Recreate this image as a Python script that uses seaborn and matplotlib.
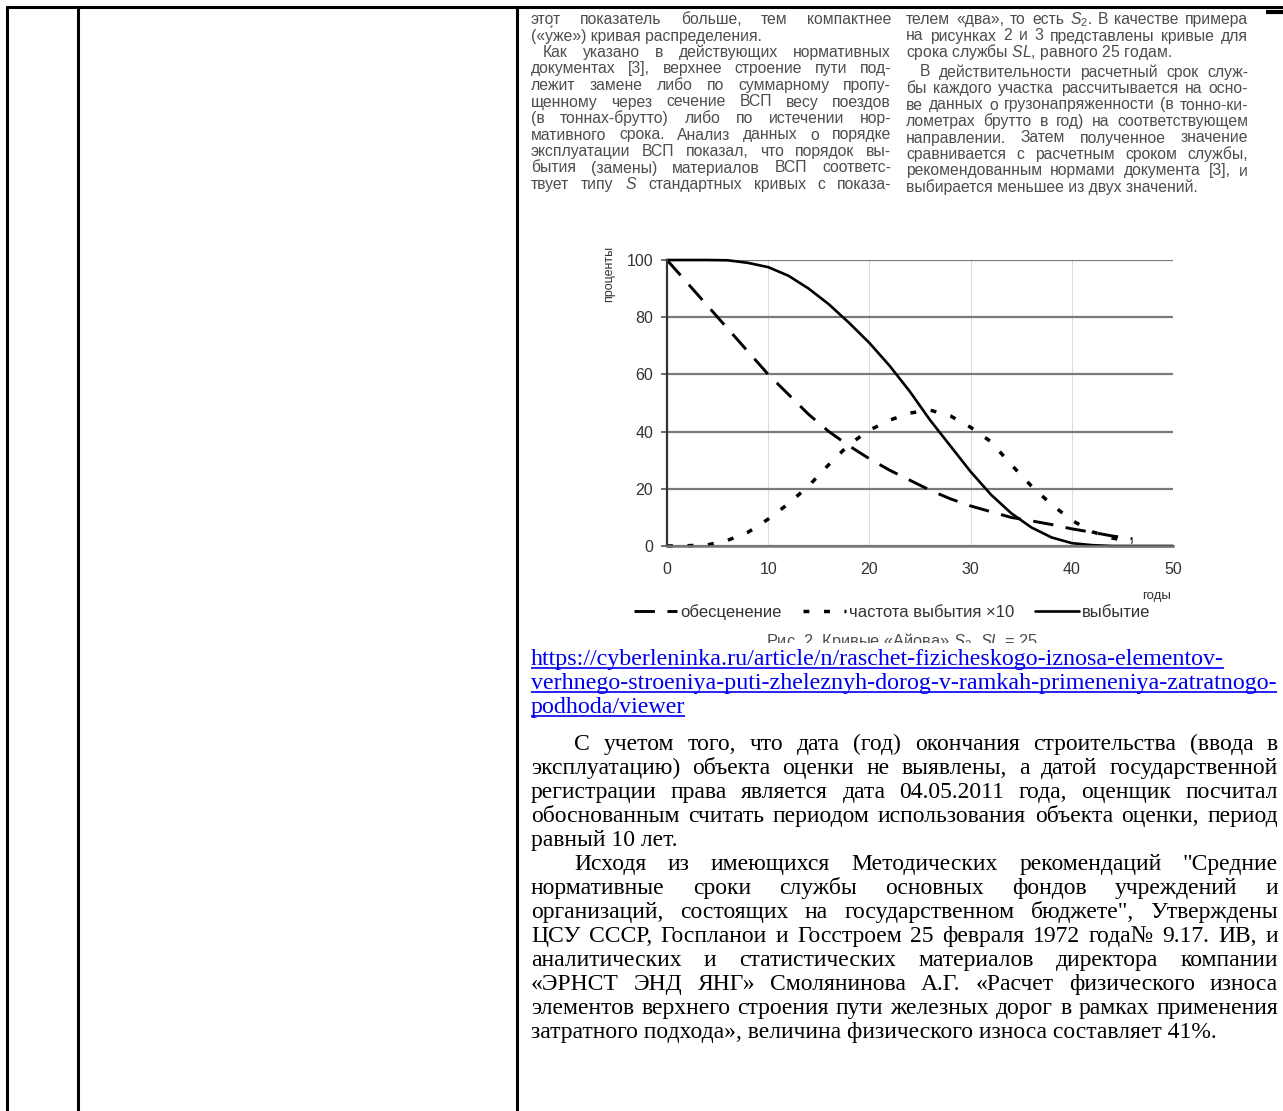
import pandas as pd
import seaborn as sns
import matplotlib.pyplot as plt
from matplotlib.patches import Rectangle

sns.set_style('white')
plt.rcParams['font.family'] = ['Liberation Sans', 'DejaVu Sans']
plt.rcParams['mathtext.fontset'] = 'custom'
plt.rcParams['mathtext.rm'] = 'Liberation Sans'
plt.rcParams['mathtext.it'] = 'Liberation Sans:italic'

# Iowa S2 curves, SL = 25
years = [0, 2, 4, 6, 8, 10, 12, 14, 16, 18, 20, 22, 24, 26, 28, 30, 32, 34, 36, 38, 40, 42, 44, 46, 48, 50]
retirement = [100, 100, 100, 99.9, 99, 97.5, 94.5, 90, 84.5, 78, 71, 63, 54, 44, 35, 26, 18, 11.5, 6.5, 3, 1, 0.3, 0, 0, 0, 0]
years_short = years[:24]
depreciation = [100, 92, 84, 76, 68, 60, 53, 46, 40, 35, 30.5, 26.5, 23, 19.5, 16.5, 14, 12, 10, 8.8, 7.5, 6, 4.8, 3.5, 2.5]
frequency = [0, 0.1, 0.4, 2, 4.8, 9.4, 14.8, 21, 28.5, 35.5, 40.5, 44, 46.5, 47.5, 45.5, 41.5, 36.5, 28.5, 21, 14.5, 9, 5, 2.8, 1.3]

series_names = ['обесценение', 'частота выбытия ×10', 'выбытие']
x_ticks = [0, 10, 20, 30, 40, 50]
y_ticks = [0, 20, 40, 60, 80, 100]

# scanned article text above the figure (two columns)
left_col = [
    ("этот показатель больше, тем компактнее", True, 0),
    ("(«у́же») кривая распределения.", False, 0),
    ("Как указано в действующих нормативных", True, 12),
    ("документах [3], верхнее строение пути под-", True, 0),
    ("лежит замене либо по суммарному пропу-", True, 0),
    ("щенному через сечение ВСП весу поездов", True, 0),
    ("(в тоннах-брутто) либо по истечении нор-", True, 0),
    ("мативного срока. Анализ данных о порядке", True, 0),
    ("эксплуатации ВСП показал, что порядок вы-", True, 0),
    ("бытия (замены) материалов ВСП соответс-", True, 0),
    ("твует типу $S$ стандартных кривых с показа-", True, 0),
]
right_col = [
    ("телем «два», то есть $S_2$. В качестве примера", True, 0),
    ("на рисунках 2 и 3 представлены кривые для", True, 0),
    ("срока службы $SL$, равного 25 годам.", False, 0),
    ("В действительности расчетный срок служ-", True, 14),
    ("бы каждого участка рассчитывается на осно-", True, 0),
    ("ве данных о грузонапряженности (в тонно-ки-", True, 0),
    ("лометрах брутто в год) на соответствующем", True, 0),
    ("направлении. Затем полученное значение", True, 0),
    ("сравнивается с расчетным сроком службы,", True, 0),
    ("рекомендованным нормами документа [3], и", True, 0),
    ("выбирается меньшее из двух значений.", False, 0),
]
caption = "Рис. 2. Кривые «Айова» $S_2$, $SL$ = 25"
link_lines = [
    "https://cyberleninka.ru/article/n/raschet-fizicheskogo-iznosa-elementov-",
    "verhnego-stroeniya-puti-zheleznyh-dorog-v-ramkah-primeneniya-zatratnogo-",
    "podhoda/viewer",
]
body_lines = [
    ("С учетом того, что дата (год) окончания строительства (ввода в", True, 43),
    ("эксплуатацию) объекта оценки не выявлены, а датой государственной", True, 0),
    ("регистрации права является дата 04.05.2011 года, оценщик посчитал", True, 0),
    ("обоснованным считать периодом использования объекта оценки, период", True, 0),
    ("равный 10 лет.", False, 0),
    ("Исходя из имеющихся Методических рекомендаций \"Средние", True, 43),
    ("нормативные сроки службы основных фондов учреждений и", True, 0),
    ("организаций, состоящих на государственном бюджете\", Утверждены", True, 0),
    ("ЦСУ СССР, Госпланои и Госстроем 25 февраля 1972 года№ 9.17. ИВ, и", True, 0),
    ("аналитических и статистических материалов директора компании", True, 0),
    ("«ЭРНСТ ЭНД ЯНГ» Смолянинова А.Г. «Расчет физического износа", True, 0),
    ("элементов верхнего строения пути железных дорог в рамках применения", True, 0),
    ("затратного подхода», величина физического износа составляет 41%.", False, 0),
]

W, H = 1283, 1111
fig = plt.figure(figsize=(W / 100, H / 100), dpi=100)
fig.patch.set_facecolor('white')

# --- embedded chart ---
ax = fig.add_axes([667 / W, 1 - 546 / H, 506 / W, 286 / H])
sns.lineplot(x=years_short, y=depreciation, ax=ax, color='black', lw=2.1,
             linestyle=(0, (7, 4.3)), label=series_names[0], clip_on=False)
sns.lineplot(x=years_short, y=frequency, ax=ax, color='black', lw=2.5,
             linestyle=(0, (1.7, 4.2)), label=series_names[1], clip_on=False)
sns.lineplot(x=years, y=retirement, ax=ax, color='black', lw=1.9,
             label=series_names[2], clip_on=False)

ax.set_xlim(0, 50)
ax.set_ylim(0, 100)
ax.set_xticks(x_ticks)
ax.set_yticks(y_ticks)
ax.set_axisbelow(True)
ax.grid(axis='y', color='#7a7a7a', lw=1.6)
ax.grid(axis='x', color='#d4d4d4', lw=0.6)
ax.get_xgridlines()[-1].set_visible(False)
ax.get_xgridlines()[0].set_visible(False)
for side in ['top', 'right']:
    ax.spines[side].set_visible(False)
ax.spines['left'].set_color('#333333')
ax.spines['left'].set_linewidth(1.6)
ax.spines['bottom'].set_color('#777777')
ax.spines['bottom'].set_linewidth(1.8)
ax.tick_params(axis='x', direction='inout', length=7, width=1.2, color='#555555',
               labelsize=11.5, labelcolor='#333333', pad=8)
ax.tick_params(axis='y', direction='out', length=4, width=1.2, color='#555555',
               labelsize=11.5, labelcolor='#333333', pad=6, left=True)
ax.set_ylabel('проценты', fontsize=9, color='#333333')
ax.yaxis.set_label_coords(-0.103, 0.95)
ax.set_xlabel('годы', fontsize=9.5, color='#333333')
ax.xaxis.set_label_coords(0.968, -0.155)
ax.legend(loc='center', bbox_to_anchor=(0.445, -0.231), ncol=3, frameon=False,
          fontsize=12, labelcolor='#333333', handlelength=2.6,
          handletextpad=0.2, columnspacing=1.25, borderaxespad=0)

# --- page overlay: table rules and text ---
ov = fig.add_axes([0, 0, 1, 1])
ov.set_xlim(0, W)
ov.set_ylim(H, 0)
ov.axis('off')

ov.hlines(7, 6, W, color='black', lw=2.2)
ov.hlines(12, 1266, W, color='black', lw=3)
ov.vlines([7, 78, 517], 6, H, color='black', lw=2.2)

renderer = fig.canvas.get_renderer()


def put_line(text, x0, x1, y, justify, **kw):
    words = text.split(' ')
    if not justify or len(words) < 2:
        return ov.text(x0, y, text, ha='left', va='baseline', **kw)
    objs = [ov.text(0, y, w, ha='left', va='baseline', **kw) for w in words]
    widths = [o.get_window_extent(renderer).width for o in objs]
    gap = max((x1 - x0 - sum(widths)) / (len(words) - 1), 2.5)
    x = x0
    for o, w in zip(objs, widths):
        o.set_x(x)
        x += w + gap


scan_kw = dict(fontsize=11.3, color='#4d4d4d', family=['Liberation Sans', 'DejaVu Sans'])
for i, (txt, just, ind) in enumerate(left_col):
    put_line(txt, 531 + ind, 891, 24 + 16.5 * i, just, **scan_kw)
for i, (txt, just, ind) in enumerate(right_col):
    base = 24 + 16.5 * i + (3 if i >= 3 else 0)
    put_line(txt, 906 + ind, 1248, base, just, **scan_kw)

ov.text(902, 646, caption, ha='center', va='baseline',
        **{**scan_kw, 'fontsize': 11.8})
ov.add_patch(Rectangle((600, 643), 600, 14, facecolor='white', edgecolor='none', zorder=5))

serif_kw = dict(fontsize=17, family=['Liberation Serif', 'DejaVu Serif'])
for i, txt in enumerate(link_lines):
    y = 665 + 24 * i
    t = ov.text(531, y, txt, ha='left', va='baseline', color='#0000ee', zorder=6,
                **{**serif_kw, 'fontsize': 17.3})
    wd = t.get_window_extent(renderer).width
    ov.hlines(y + 3, 531, 531 + wd, color='#0000ee', lw=1.2, zorder=6)

for i, (txt, just, ind) in enumerate(body_lines):
    put_line(txt, 531 + ind, 1278, 750 + 24 * i, just, color='black', **serif_kw)

fig.savefig('out.png', dpi=100)
